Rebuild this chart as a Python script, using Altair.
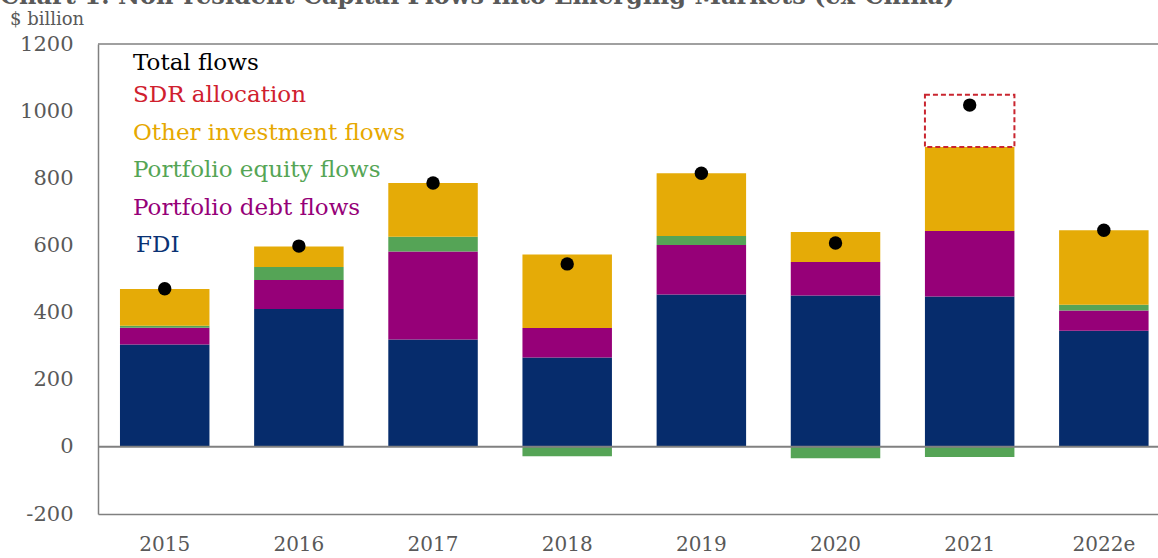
import altair as alt
import pandas as pd

years = ["2015", "2016", "2017", "2018", "2019", "2020", "2021", "2022e"]
fdi = [305, 411, 320, 266, 454, 451, 448, 346]
debt = [50, 86, 262, 88, 147, 100, 195, 60]
equity = [6, 39, 44, -28, 27, -34, -30, 17]
other = [109, 61, 160, 219, 187, 89, 250, 222]
sdr = [0, 0, 0, 0, 0, 0, 156, 0]
total = [471, 598, 786, 545, 815, 607, 1018, 645]

series_names = ["FDI", "Portfolio debt flows", "Portfolio equity flows",
                "Other investment flows", "SDR allocation"]
series_colors = ["#062C6C", "#960078", "#55A456", "#E5AB07", "#FFFFFF"]
y_ticks = [-200, 0, 200, 400, 600, 800, 1000, 1200]

title_text = "Chart 1: Non-resident Capital Flows into Emerging Markets (ex-China)"
unit_text = "$ billion"
legend_labels = ["Total flows", "SDR allocation", "Other investment flows",
                 "Portfolio equity flows", "Portfolio debt flows", "FDI"]
legend_colors = ["#000000", "#D0202E", "#E6A800", "#55A555", "#960078", "#0A3274"]

rows = []
for i, y in enumerate(years):
    for k, vals in enumerate([fdi, debt, equity, other, sdr]):
        if vals[i] != 0:
            rows.append({"year": y, "series": series_names[k], "value": vals[i], "ord": k})
df = pd.DataFrame(rows)
df_tot = pd.DataFrame({"year": years, "total": total})

FONT = "DejaVu Serif"
GREY = "#595959"
LINE = "#808080"
W, H = 1060, 470

xenc = alt.X("year:N", sort=years,
             scale=alt.Scale(paddingInner=0.333, paddingOuter=0.117, align=0.7),
             axis=alt.Axis(title=None, labelAngle=0, ticks=False, domain=True,
                           domainColor=LINE, domainWidth=1.5, labelFont=FONT,
                           labelFontSize=20, labelColor=GREY, labelPadding=20))
yscale = alt.Scale(domain=[-200, 1200], nice=False, zero=False)

bars = alt.Chart(df).mark_bar().encode(
    x=xenc,
    y=alt.Y("value:Q", stack="zero", scale=yscale,
            axis=alt.Axis(title=None, values=y_ticks, ticks=False, grid=False,
                          domain=True, domainColor=LINE, domainWidth=1.5,
                          labelFont=FONT, labelFontSize=21, labelColor=GREY,
                          labelPadding=25, labelExpr="'' + datum.value")),
    color=alt.Color("series:N", scale=alt.Scale(domain=series_names, range=series_colors),
                    legend=None),
    order=alt.Order("ord:Q"),
    stroke=alt.condition(alt.datum.series == "SDR allocation",
                         alt.value("#C9252F"), alt.value("transparent")),
    strokeWidth=alt.condition(alt.datum.series == "SDR allocation",
                              alt.value(2), alt.value(0)),
    strokeDash=alt.condition(alt.datum.series == "SDR allocation",
                             alt.value([5, 3]), alt.value([1, 0])),
)

zero_rule = alt.Chart(pd.DataFrame({"z": [0]})).mark_rule(
    color=LINE, strokeWidth=2).encode(y=alt.Y("z:Q", scale=yscale))

top_rule = alt.Chart(pd.DataFrame({"z": [1200]})).mark_rule(
    color=LINE, strokeWidth=1.5).encode(y=alt.Y("z:Q", scale=yscale))

dots = alt.Chart(df_tot).mark_circle(size=180, color="#000000", opacity=1).encode(
    x=alt.X("year:N", sort=years),
    y=alt.Y("total:Q", scale=yscale),
)

title = alt.Chart(pd.DataFrame({"t": [title_text]})).mark_text(
    font=FONT, fontSize=24, fontWeight="bold", color=GREY, align="left",
    baseline="alphabetic").encode(text="t:N", x=alt.value(-98), y=alt.value(-40))

unit = alt.Chart(pd.DataFrame({"t": [unit_text]})).mark_text(
    font=FONT, fontSize=18, color=GREY, align="left",
    baseline="middle").encode(text="t:N", x=alt.value(-88), y=alt.value(-24))

legend_baselines = [26, 58, 96, 133, 171, 208]
legend_layers = []
for lab, col, yb in zip(legend_labels, legend_colors, legend_baselines):
    xoff = 38 if lab == "FDI" else 35
    legend_layers.append(
        alt.Chart(pd.DataFrame({"t": [lab]})).mark_text(
            font=FONT, fontSize=23, color=col, align="left",
            baseline="alphabetic").encode(text="t:N", x=alt.value(xoff), y=alt.value(yb))
    )

chart = alt.layer(bars, zero_rule, top_rule, dots, title, unit, *legend_layers).properties(
    width=W, height=H,
    autosize=alt.AutoSizeParams(type="none"),
    padding={"left": 98, "top": 44, "right": 0, "bottom": 44},
    background="white",
).configure_view(stroke="transparent")

chart.save("out.html", embed_options={"renderer": "svg", "actions": False})
